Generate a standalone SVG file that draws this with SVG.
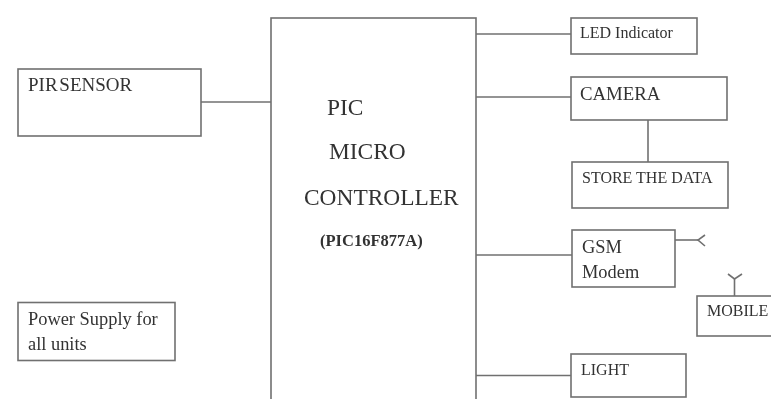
<svg xmlns="http://www.w3.org/2000/svg" width="771" height="399" viewBox="0 0 771 399">
<defs><filter id="soft" x="-5%" y="-5%" width="110%" height="110%"><feGaussianBlur stdDeviation="0.5"/></filter></defs>
<style>
rect{fill:#fff;stroke:#707070;stroke-width:1.6}
line,polyline{fill:none;stroke:#707070;stroke-width:1.6}
text{font-family:"Liberation Serif","Times New Roman",serif;fill:#333;font-size:18.400px}
.big{font-size:23.400px}
.sm{font-size:16px}
</style>
<rect width="771" height="399" style="fill:#fff;stroke:none"/>
<g filter="url(#soft)">
<g id="connectors">
<line x1="201" y1="102" x2="271" y2="102"/>
<line x1="476" y1="34" x2="571" y2="34"/>
<line x1="476" y1="97" x2="571" y2="97"/>
<line x1="476" y1="255" x2="572" y2="255"/>
<line x1="476" y1="375.500" x2="571" y2="375.500"/>
<line x1="648" y1="120" x2="648" y2="162"/>
</g>
<g id="pir"><rect x="18" y="69" width="183" height="67"/><text x="28" y="91" style="font-size:19px;word-spacing:-3px">PIR SENSOR</text></g>
<g id="power"><rect x="18" y="302.500" width="157" height="58"/><text x="28" y="325">Power Supply for</text><text x="28" y="350">all units</text></g>
<g id="controller"><rect x="271" y="18" width="205" height="390"/>
<text class="big" x="327" y="115">PIC</text><text class="big" x="329" y="159">MICRO</text><text class="big" x="304" y="205">CONTROLLER</text>
<text x="320" y="245.500" style="font-size:16.500px;font-weight:bold">(PIC16F877A)</text></g>
<g id="led"><rect x="571" y="18" width="126" height="36"/><text class="sm" x="580" y="38">LED Indicator</text></g>
<g id="camera"><rect x="571" y="77" width="156" height="43"/><text x="580" y="100" style="font-size:18.800px">CAMERA</text></g>
<g id="store"><rect x="572" y="162" width="156" height="46"/><text class="sm" x="582" y="183">STORE THE DATA</text></g>
<g id="gsm"><rect x="572" y="230" width="103" height="57"/><text x="582" y="253">GSM</text><text x="582" y="278">Modem</text>
<line x1="675" y1="240" x2="698" y2="240"/><polyline points="705,235 698,240 705,246"/></g>
<g id="mobile"><rect x="697" y="296" width="90" height="40"/><text class="sm" x="707" y="316">MOBILE</text>
<line x1="734.500" y1="296" x2="734.500" y2="279"/><polyline points="728,274 734.500,279 742,274"/></g>
<g id="light"><rect x="571" y="354" width="115" height="43"/><text class="sm" x="581" y="375">LIGHT</text></g>
</g>
</svg>
